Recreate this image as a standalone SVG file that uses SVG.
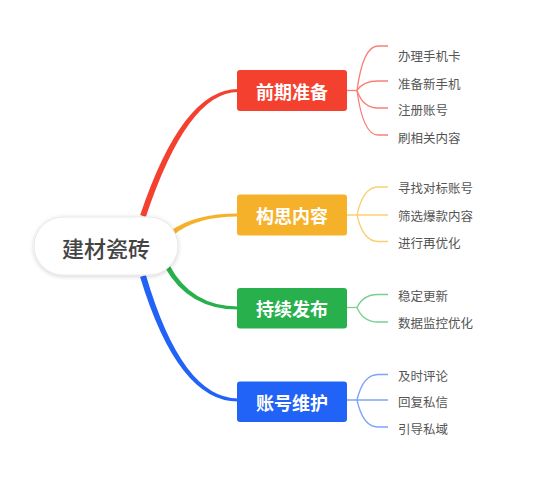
<svg xmlns="http://www.w3.org/2000/svg" width="560" height="479" viewBox="0 0 560 479">
<defs>
<filter id="sh" x="-20%" y="-30%" width="140%" height="160%">
<feDropShadow dx="0" dy="1" stdDeviation="2" flood-color="#000" flood-opacity="0.18"/>
</filter>
<style>
.root{font-family:"Noto Sans CJK SC","Noto Sans",sans-serif;font-size:22px;font-weight:500;fill:#444;text-anchor:middle;dominant-baseline:central}
.main{font-family:"Noto Sans CJK SC","Noto Sans",sans-serif;font-size:18px;font-weight:bold;fill:#fff;text-anchor:middle;dominant-baseline:central}
.leaf{font-family:"Noto Sans CJK SC","Noto Sans",sans-serif;font-size:12.5px;fill:#555;dominant-baseline:central}
.lk{fill:none;stroke-width:1.3}
</style>
</defs>
<rect width="560" height="479" fill="#fff"/>
<g id="connectors">
<path d="M140.2,215 Q182.5,89 238,89 L238,92 Q187.5,92 145.8,217 Z" fill="#F4412F"/>
<path d="M170.5,231 Q194,213.5 238,213.5 L238,216.5 Q196,216.5 173.5,235 Z" fill="#F6B12A"/>
<path d="M169.2,264.8 Q191.5,306.5 238,306.5 L238,309.5 Q188.5,309.5 164.8,267.2 Z" fill="#28B04C"/>
<path d="M145.9,275.1 Q182,398.5 238,398.5 L238,401.5 Q178,401.5 140.1,276.9 Z" fill="#2162F7"/>
<g class="lk" stroke="#FA7F76">
<path d="M347,90.5 H357"/>
<path d="M357,90.5 Q363,46 378,46 H388"/>
<path d="M357,90.5 Q363,81 378,81 H388"/>
<path d="M357,90.5 Q363,108 378,108 H388"/>
<path d="M357,90.5 Q363,135 378,135 H388"/>
</g>
<g class="lk" stroke="#FBCF73">
<path d="M347,215 H388"/>
<path d="M357,215 Q363,187 378,187 H388"/>
<path d="M357,215 Q363,241.5 378,241.5 H388"/>
</g>
<g class="lk" stroke="#78CF90">
<path d="M347,307.5 H357"/>
<path d="M357,307.5 Q363,294.5 378,294.5 H388"/>
<path d="M357,307.5 Q363,322 378,322 H388"/>
</g>
<g class="lk" stroke="#7CA3FA">
<path d="M347,400 H388"/>
<path d="M357,400 Q363,374.5 378,374.5 H388"/>
<path d="M357,400 Q363,427 378,427 H388"/>
</g>
</g>
<g id="root">
<rect x="34" y="217" width="144" height="58" rx="29" fill="#fff" stroke="#e8e8e8" stroke-width="1" filter="url(#sh)"/>
<text class="root" x="106" y="246.5">建材瓷砖</text>
</g>
<g id="b1">
<rect x="237" y="70" width="110" height="41" rx="3" fill="#F4412F"/>
<text class="main" x="292" y="90.5">前期准备</text>
</g>
<g id="b2">
<rect x="237" y="194.5" width="110" height="41" rx="3" fill="#F6B12A"/>
<text class="main" x="292" y="215">构思内容</text>
</g>
<g id="b3">
<rect x="237" y="288" width="110" height="40.5" rx="3" fill="#28B04C"/>
<text class="main" x="292" y="308">持续发布</text>
</g>
<g id="b4">
<rect x="237" y="381.5" width="110" height="40.5" rx="3" fill="#2162F7"/>
<text class="main" x="292" y="401.5">账号维护</text>
</g>
<g id="leaves1">
<text class="leaf" x="398" y="55">办理手机卡</text>
<text class="leaf" x="398" y="83">准备新手机</text>
<text class="leaf" x="398" y="109.5">注册账号</text>
<text class="leaf" x="398" y="137">刷相关内容</text>
</g>
<g id="leaves2">
<text class="leaf" x="398" y="187.5">寻找对标账号</text>
<text class="leaf" x="398" y="215">筛选爆款内容</text>
<text class="leaf" x="398" y="242">进行再优化</text>
</g>
<g id="leaves3">
<text class="leaf" x="398" y="295">稳定更新</text>
<text class="leaf" x="398" y="322.5">数据监控优化</text>
</g>
<g id="leaves4">
<text class="leaf" x="398" y="375">及时评论</text>
<text class="leaf" x="398" y="401.5">回复私信</text>
<text class="leaf" x="398" y="428">引导私域</text>
</g>
</svg>
